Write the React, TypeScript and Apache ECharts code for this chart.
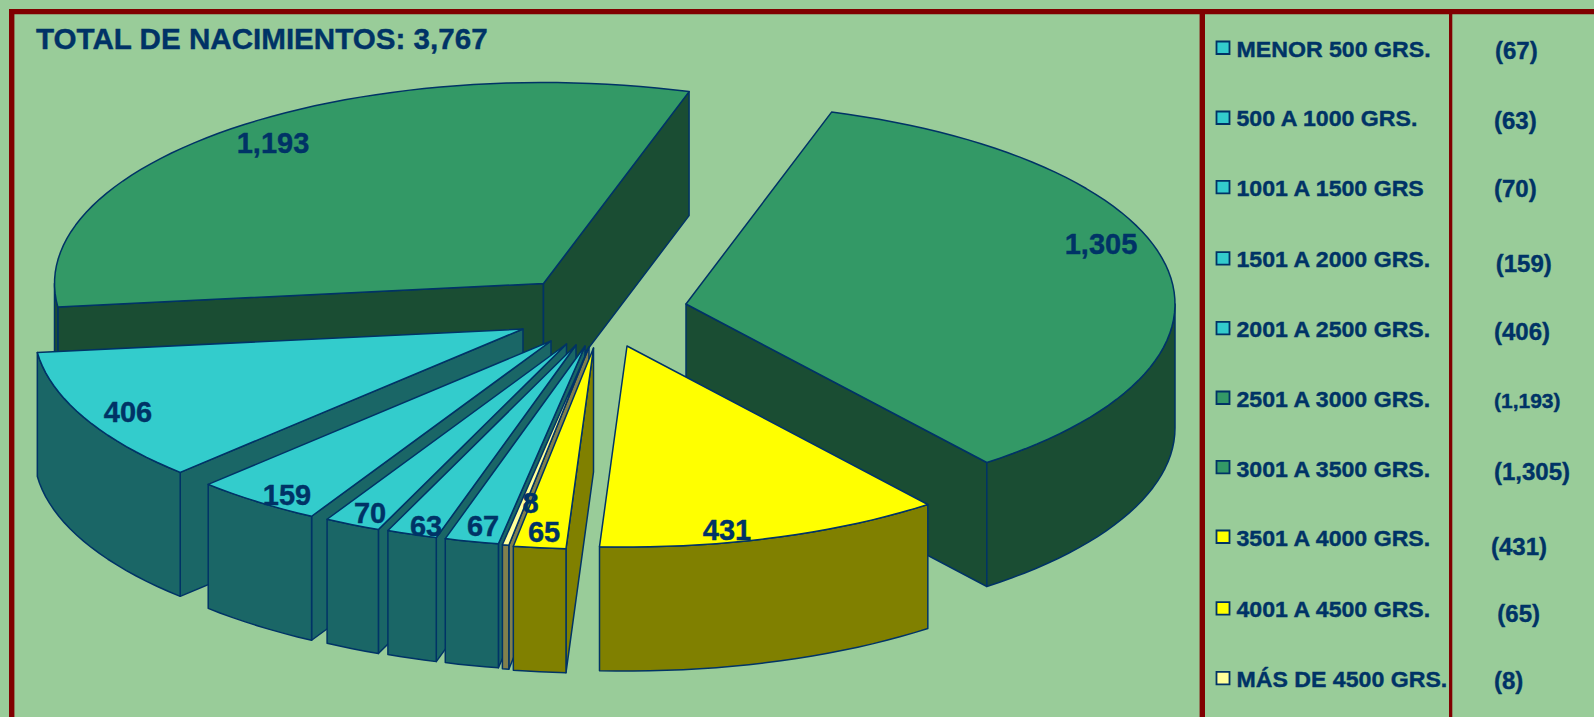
import React, { useEffect, useRef } from "react";
import * as echarts from "echarts";

const WIDTH = 1594;
const HEIGHT = 717;

// ---- data (legend order) ----
const categories = [
  "MENOR 500 GRS.",
  "500 A 1000 GRS.",
  "1001 A 1500 GRS",
  "1501 A 2000 GRS.",
  "2001 A 2500 GRS.",
  "2501 A 3000 GRS.",
  "3001 A 3500 GRS.",
  "3501 A 4000 GRS.",
  "4001 A 4500 GRS.",
  "MÁS DE 4500 GRS.",
];
const values = [67, 63, 70, 159, 406, 1193, 1305, 431, 65, 8];
const titleText = "TOTAL DE NACIMIENTOS: 3,767";

// ---- styling and layout ----
const TEAL = { top: "#33CCCC", side: "#1A6666" };
const GREEN = { top: "#339966", side: "#1A4D33" };
const YELLOW = { top: "#FFFF00", side: "#808000" };
const CREAM = { top: "#FFFF99", side: "#80804D" };
const sliceColors = [TEAL, TEAL, TEAL, TEAL, TEAL, GREEN, GREEN, YELLOW, YELLOW, CREAM];

const INK = "#003366";
const FRAME = "#800000";
const BACKGROUND = "#99CC99";
const FONT = '"Liberation Sans", Arial, sans-serif';

const RX = 489;
const RY = 201;
const DEPTH = 124;
const FIRST_START_DEG = 190.2;

// exploded apex of every slice, legend order
const apexes = [
  [585, 346],
  [576, 345],
  [566.5, 344],
  [551, 341],
  [523, 329],
  [543.5, 283.5],
  [686, 304],
  [627, 346],
  [593.5, 348],
  [589, 347],
];
// painter's order, back to front
const drawOrder = [5, 6, 7, 4, 3, 2, 1, 0, 9, 8];
const labelPositions = [
  [483, 526],
  [426, 526],
  [370, 513],
  [287, 495],
  [128, 411.7],
  [273, 143.3],
  [1101, 244],
  [727, 530],
  [544, 531.7],
  [530.5, 502.7],
];

const legendTextY = [49.3, 118.3, 188.3, 259.3, 329.3, 399.3, 469.3, 538.7, 609.3, 679.3];
const legendBoxY = [40.7, 110.7, 180, 251.3, 321, 390.7, 460, 529.7, 601.3, 671];
const valueX = [1495, 1494, 1494, 1495.7, 1494, 1494, 1494, 1491, 1497.3, 1494];
const valueY = [50, 120, 188.3, 263.3, 331, 400.7, 471.7, 546.3, 613.7, 680.3];
const valueFont = [24, 24, 24, 24, 24, 21, 24, 24, 24, 24];

const total = values.reduce((a, b) => a + b, 0);
const fmt = (v: number) => v.toLocaleString("en-US");

// angular extent of each slice, clockwise from north, start kept within 0-360
const sliceAngles: number[][] = [];
{
  let a = FIRST_START_DEG;
  for (const v of values) {
    const sweep = (v / total) * 360;
    const s = a >= 360 ? a - 360 : a;
    sliceAngles.push([s, s + sweep]);
    a += sweep;
  }
}

const rad = (d: number) => (d * Math.PI) / 180;
const rimPoint = (apex: number[], deg: number) => [
  apex[0] + RX * Math.sin(rad(deg)),
  apex[1] - RY * Math.cos(rad(deg)),
];
const arcPoints = (apex: number[], a0: number, a1: number) => {
  const n = Math.max(1, Math.ceil((a1 - a0) / 2));
  const pts: number[][] = [];
  for (let k = 0; k <= n; k++) pts.push(rimPoint(apex, a0 + ((a1 - a0) * k) / n));
  return pts;
};
const lower = (p: number[]) => [p[0], p[1] + DEPTH];

function renderSlice(_params: any, api: any) {
  const i = api.value(0) as number;
  const [a0, a1] = sliceAngles[i];
  const apex = apexes[i];
  const colors = sliceColors[i];
  const line = { stroke: INK, lineWidth: 1.5, lineJoin: "round" };
  const children: any[] = [];
  const wall = (deg: number) => {
    const p = rimPoint(apex, deg);
    children.push({
      type: "polygon",
      shape: { points: [apex, p, lower(p), lower(apex)] },
      style: { fill: colors.side, ...line },
    });
  };
  if (Math.sin(rad(a0)) < 0) wall(a0);
  if (Math.sin(rad(a1)) > 0) wall(a1);
  const r0 = Math.max(a0, 90);
  const r1 = Math.min(a1, 270);
  if (r1 > r0) {
    const up = arcPoints(apex, r0, r1);
    children.push({
      type: "polygon",
      shape: { points: [...up, ...up.slice().reverse().map(lower)] },
      style: { fill: colors.side, ...line },
    });
  }
  children.push({
    type: "polygon",
    shape: { points: [apex, ...arcPoints(apex, a0, a1)] },
    style: { fill: colors.top, ...line },
  });
  return { type: "group", children };
}

const heavy = { stroke: INK, lineWidth: 0.4 };

function renderLabel(_params: any, api: any) {
  const i = api.value(0) as number;
  return {
    type: "text",
    x: labelPositions[i][0],
    y: labelPositions[i][1],
    style: {
      text: fmt(api.value(1) as number),
      font: `bold 29px ${FONT}`,
      fill: INK,
      ...heavy,
      align: "center",
      verticalAlign: "middle",
    },
  };
}

function buildGraphic() {
  const els: any[] = [
    { type: "rect", shape: { x: 9, y: 9, width: WIDTH - 9, height: 5.3 }, style: { fill: FRAME } },
    { type: "rect", shape: { x: 9, y: 9, width: 5.4, height: HEIGHT - 9 }, style: { fill: FRAME } },
    { type: "rect", shape: { x: 1199.6, y: 9, width: 5.4, height: HEIGHT - 9 }, style: { fill: FRAME } },
    { type: "rect", shape: { x: 1449, y: 9, width: 3.3, height: HEIGHT - 9 }, style: { fill: FRAME } },
    {
      type: "text",
      x: 36,
      y: 38.7,
      style: { text: titleText, font: `bold 29.6px ${FONT}`, fill: INK, ...heavy, align: "left", verticalAlign: "middle" },
    },
  ];
  categories.forEach((name, i) => {
    els.push({
      type: "rect",
      shape: { x: 1216.5, y: legendBoxY[i] + 0.8, width: 13, height: 12.5 },
      style: { fill: sliceColors[i].top, stroke: INK, lineWidth: 1.8 },
    });
    els.push({
      type: "text",
      x: 1236.5,
      y: legendTextY[i],
      scaleX: 1.052,
      style: { text: name, font: `bold 22px ${FONT}`, fill: INK, ...heavy, align: "left", verticalAlign: "middle" },
    });
    els.push({
      type: "text",
      x: valueX[i],
      y: valueY[i],
      style: {
        text: `(${fmt(values[i])})`,
        font: `bold ${valueFont[i]}px ${FONT}`,
        fill: INK,
        ...heavy,
        align: "left",
        verticalAlign: "middle",
      },
    });
  });
  return els;
}

export default function App() {
  const ref = useRef<HTMLDivElement>(null);
  useEffect(() => {
    document.body.style.margin = "0";
    const chart = echarts.init(ref.current!, undefined, { renderer: "svg" });
    const rows = drawOrder.map((i) => [i, values[i]]);
    chart.setOption({
      animation: false,
      backgroundColor: BACKGROUND,
      graphic: { elements: buildGraphic() },
      series: [
        { type: "custom", coordinateSystem: "none", renderItem: renderSlice, data: rows, silent: true, z: 2 },
        { type: "custom", coordinateSystem: "none", renderItem: renderLabel, data: rows, silent: true, z: 5 },
      ],
    });
    return () => chart.dispose();
  }, []);
  return (
    <div
      ref={ref}
      style={{ position: "absolute", left: 0, top: 0, width: WIDTH, height: HEIGHT }}
    />
  );
}
